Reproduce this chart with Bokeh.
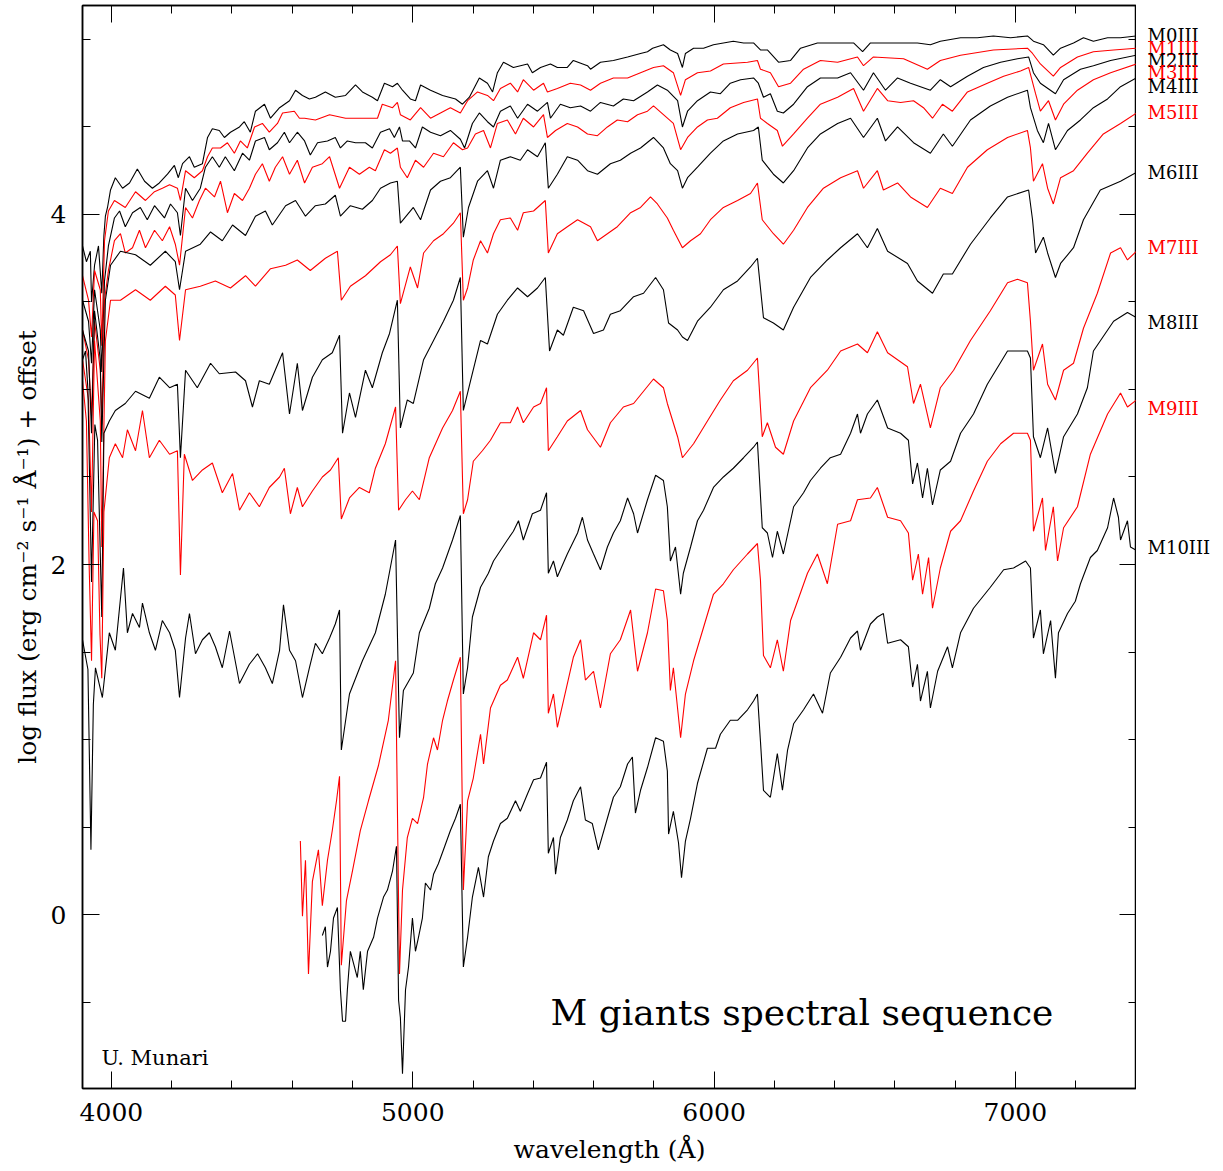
from bokeh.plotting import figure
from bokeh.layouts import row
from bokeh.models import (Range1d, LinearAxis, SingleIntervalTicker, Label,
                          CustomJSTickFormatter)
from bokeh.core.properties import value
from bokeh.embed import file_html
from bokeh.resources import INLINE

FONT = "DejaVu Serif"

# ---- spectra: (wavelength [A], log flux + offset) ----
m0 = [(3904,3.82),(3917,3.73),(3930,3.79),(3934,3.50),(3944,3.71),(3957,3.82),(3968,3.55),(3975,3.88),(3980,3.99),(3987,4.04),(3997,4.14),(4013,4.21),(4037,4.15),(4060,4.18),(4086,4.26),(4110,4.19),(4136,4.15),(4159,4.18),(4186,4.23),(4209,4.28),(4222,4.21),(4236,4.29),(4259,4.33),(4275,4.27),(4302,4.29),(4319,4.44),(4335,4.49),(4358,4.48),(4375,4.44),(4395,4.47),(4425,4.50),(4441,4.53),(4461,4.47),(4478,4.59),(4508,4.63),(4528,4.55),(4558,4.61),(4591,4.65),(4611,4.71),(4634,4.68),(4657,4.66),(4677,4.67),(4710,4.70),(4743,4.67),(4777,4.68),(4810,4.74),(4833,4.70),(4866,4.67),(4883,4.65),(4906,4.75),(4933,4.73),(4949,4.75),(4966,4.71),(4992,4.66),(5009,4.65),(5026,4.74),(5059,4.71),(5099,4.68),(5142,4.66),(5165,4.63),(5188,4.67),(5221,4.78),(5248,4.75),(5265,4.70),(5281,4.81),(5301,4.87),(5334,4.84),(5381,4.86),(5397,4.81),(5424,4.84),(5457,4.86),(5480,4.84),(5513,4.84),(5533,4.88),(5580,4.85),(5590,4.83),(5623,4.87),(5666,4.88),(5713,4.90),(5756,4.92),(5779,4.93),(5796,4.95),(5832,4.97),(5855,4.94),(5879,4.92),(5895,4.84),(5905,4.92),(5932,4.95),(5965,4.95),(5998,4.97),(6031,4.98),(6064,4.99),(6098,4.98),(6131,4.98),(6154,4.94),(6177,4.94),(6214,4.87),(6254,4.88),(6287,4.95),(6343,4.98),(6396,4.98),(6463,4.98),(6493,4.93),(6519,4.98),(6576,4.98),(6619,4.98),(6675,4.98),(6718,4.97),(6751,4.99),(6818,5.01),(6874,5.01),(6927,5.02),(6984,5.01),(7040,5.02),(7060,4.99),(7093,4.97),(7126,4.91),(7150,4.95),(7193,4.98),(7226,5.01),(7259,4.99),(7306,5.01),(7349,5.01),(7402,5.02)]

m1 = [(3904,3.65),(3924,3.51),(3934,3.30),(3944,3.68),(3963,3.57),(3968,3.25),(3977,3.85),(3990,4.02),(4010,4.08),(4046,4.04),(4080,4.13),(4113,4.08),(4143,4.13),(4169,4.15),(4193,4.17),(4219,4.15),(4229,4.08),(4246,4.25),(4275,4.21),(4302,4.25),(4319,4.33),(4335,4.38),(4362,4.38),(4385,4.41),(4408,4.35),(4428,4.42),(4451,4.38),(4475,4.50),(4501,4.52),(4524,4.47),(4551,4.52),(4568,4.58),(4607,4.59),(4624,4.55),(4641,4.55),(4677,4.54),(4724,4.57),(4777,4.55),(4810,4.55),(4856,4.55),(4883,4.55),(4899,4.63),(4933,4.61),(4949,4.64),(4959,4.57),(4992,4.54),(5026,4.61),(5059,4.55),(5092,4.58),(5125,4.61),(5158,4.58),(5182,4.65),(5215,4.70),(5248,4.68),(5268,4.65),(5291,4.72),(5324,4.75),(5348,4.70),(5367,4.77),(5401,4.71),(5434,4.75),(5447,4.70),(5480,4.72),(5523,4.75),(5557,4.74),(5590,4.71),(5623,4.75),(5666,4.78),(5713,4.78),(5756,4.81),(5799,4.84),(5832,4.85),(5865,4.81),(5889,4.68),(5905,4.77),(5945,4.81),(5988,4.82),(6031,4.86),(6111,4.87),(6144,4.88),(6154,4.83),(6187,4.81),(6214,4.73),(6254,4.75),(6297,4.83),(6353,4.88),(6410,4.87),(6476,4.90),(6496,4.85),(6529,4.90),(6629,4.89),(6708,4.83),(6751,4.88),(6818,4.91),(6927,4.94),(7040,4.95),(7057,4.92),(7083,4.86),(7126,4.79),(7150,4.84),(7206,4.90),(7259,4.93),(7326,4.94),(7402,4.95)]

m2 = [(3904,3.51),(3924,3.39),(3934,3.15),(3944,3.57),(3963,3.34),(3968,3.10),(3977,3.62),(3990,3.82),(4010,3.98),(4027,4.02),(4046,3.93),(4070,4.01),(4096,4.04),(4119,3.97),(4143,4.05),(4176,3.98),(4196,4.06),(4219,4.01),(4229,3.88),(4246,4.15),(4269,4.08),(4295,4.15),(4312,4.27),(4335,4.33),(4358,4.27),(4378,4.33),(4408,4.25),(4435,4.35),(4458,4.31),(4478,4.42),(4508,4.44),(4524,4.37),(4551,4.41),(4574,4.47),(4591,4.41),(4617,4.47),(4641,4.42),(4660,4.34),(4684,4.41),(4717,4.42),(4743,4.44),(4760,4.38),(4783,4.42),(4810,4.41),(4843,4.41),(4866,4.38),(4893,4.47),(4923,4.49),(4939,4.44),(4956,4.50),(4966,4.42),(4989,4.42),(5009,4.38),(5032,4.50),(5059,4.47),(5092,4.45),(5125,4.48),(5158,4.43),(5172,4.38),(5198,4.52),(5221,4.58),(5248,4.53),(5268,4.50),(5291,4.59),(5324,4.62),(5348,4.55),(5381,4.63),(5414,4.59),(5447,4.64),(5457,4.55),(5490,4.63),(5523,4.61),(5557,4.62),(5590,4.59),(5623,4.64),(5666,4.62),(5699,4.66),(5733,4.65),(5779,4.70),(5812,4.74),(5845,4.71),(5879,4.65),(5895,4.50),(5912,4.59),(5945,4.65),(5988,4.70),(6021,4.69),(6054,4.75),(6088,4.77),(6131,4.78),(6147,4.75),(6164,4.67),(6187,4.69),(6210,4.59),(6230,4.58),(6264,4.63),(6310,4.73),(6353,4.78),(6410,4.78),(6453,4.81),(6496,4.71),(6529,4.81),(6569,4.71),(6609,4.78),(6652,4.75),(6718,4.71),(6751,4.77),(6785,4.73),(6841,4.79),(6894,4.84),(6951,4.87),(7007,4.89),(7044,4.90),(7060,4.81),(7083,4.75),(7133,4.69),(7160,4.77),(7216,4.83),(7259,4.85),(7316,4.88),(7402,4.91)]

m3 = [(3904,3.34),(3924,3.17),(3934,2.85),(3944,3.39),(3963,3.11),(3968,2.80),(3977,3.51),(3990,3.68),(4010,3.85),(4030,3.89),(4046,3.78),(4070,3.81),(4093,3.91),(4113,3.81),(4143,3.91),(4169,3.85),(4193,3.93),(4212,3.83),(4226,3.71),(4246,4.04),(4269,3.98),(4292,4.08),(4312,4.15),(4342,4.10),(4362,4.19),(4385,4.01),(4408,4.12),(4435,4.08),(4458,4.15),(4478,4.23),(4501,4.29),(4524,4.19),(4544,4.27),(4568,4.33),(4591,4.23),(4617,4.31),(4641,4.18),(4667,4.27),(4700,4.29),(4724,4.33),(4757,4.15),(4790,4.27),(4823,4.23),(4856,4.27),(4876,4.25),(4906,4.37),(4926,4.35),(4949,4.38),(4959,4.27),(4982,4.21),(5009,4.31),(5036,4.27),(5069,4.35),(5102,4.33),(5135,4.41),(5165,4.37),(5182,4.38),(5208,4.46),(5235,4.48),(5258,4.38),(5281,4.52),(5314,4.54),(5341,4.46),(5367,4.55),(5401,4.50),(5434,4.57),(5447,4.44),(5474,4.48),(5513,4.52),(5547,4.50),(5580,4.46),(5613,4.45),(5646,4.50),(5679,4.54),(5713,4.53),(5746,4.57),(5779,4.59),(5799,4.62),(5832,4.57),(5865,4.52),(5889,4.37),(5912,4.44),(5945,4.50),(5978,4.54),(6011,4.55),(6054,4.61),(6098,4.64),(6144,4.66),(6154,4.55),(6177,4.52),(6210,4.48),(6227,4.39),(6264,4.46),(6310,4.55),(6353,4.63),(6410,4.67),(6463,4.72),(6496,4.59),(6542,4.72),(6576,4.65),(6619,4.64),(6662,4.65),(6695,4.61),(6725,4.55),(6758,4.63),(6791,4.59),(6841,4.70),(6907,4.75),(6961,4.79),(7017,4.82),(7044,4.84),(7067,4.69),(7083,4.59),(7110,4.65),(7133,4.54),(7160,4.63),(7206,4.71),(7259,4.77),(7316,4.81),(7402,4.86)]

m4 = [(3904,3.34),(3924,3.22),(3934,2.75),(3944,3.45),(3963,3.17),(3968,2.70),(3980,3.51),(3997,3.71),(4030,3.79),(4080,3.77),(4129,3.71),(4179,3.79),(4212,3.73),(4226,3.57),(4246,3.79),(4295,3.83),(4329,3.90),(4368,3.85),(4402,3.94),(4445,3.88),(4478,3.99),(4511,4.02),(4534,3.94),(4578,4.05),(4611,4.08),(4644,3.99),(4677,4.05),(4710,4.06),(4743,4.11),(4760,3.99),(4793,4.05),(4833,4.03),(4866,4.08),(4893,4.15),(4926,4.18),(4949,4.19),(4959,3.95),(5002,4.04),(5026,3.97),(5059,4.14),(5092,4.19),(5125,4.21),(5158,4.27),(5168,3.87),(5185,4.04),(5215,4.19),(5248,4.25),(5268,4.15),(5291,4.31),(5324,4.33),(5357,4.31),(5381,4.37),(5414,4.33),(5440,4.41),(5450,4.15),(5480,4.23),(5513,4.33),(5547,4.31),(5580,4.25),(5613,4.23),(5656,4.29),(5689,4.31),(5723,4.35),(5756,4.38),(5799,4.44),(5832,4.38),(5855,4.29),(5879,4.25),(5895,4.15),(5912,4.21),(5945,4.27),(5988,4.35),(6031,4.42),(6078,4.46),(6131,4.48),(6147,4.50),(6160,4.31),(6197,4.23),(6230,4.18),(6264,4.25),(6310,4.38),(6353,4.46),(6410,4.52),(6453,4.55),(6496,4.44),(6542,4.55),(6569,4.42),(6609,4.50),(6662,4.41),(6718,4.35),(6761,4.46),(6791,4.39),(6851,4.54),(6917,4.62),(6974,4.67),(7040,4.71),(7050,4.61),(7073,4.48),(7093,4.41),(7110,4.52),(7133,4.37),(7173,4.48),(7216,4.54),(7259,4.61),(7306,4.66),(7349,4.73),(7402,4.78)]

m5 = [(3904,3.17),(3924,2.94),(3934,2.30),(3944,3.28),(3963,2.82),(3968,2.10),(3980,3.28),(3997,3.51),(4030,3.51),(4080,3.57),(4129,3.51),(4179,3.59),(4212,3.54),(4226,3.28),(4246,3.57),(4295,3.59),(4345,3.62),(4395,3.58),(4445,3.65),(4478,3.59),(4528,3.69),(4578,3.71),(4617,3.74),(4660,3.68),(4710,3.75),(4750,3.79),(4763,3.51),(4793,3.59),(4843,3.65),(4893,3.73),(4926,3.77),(4949,3.82),(4959,3.49),(4992,3.70),(5016,3.58),(5036,3.78),(5069,3.85),(5102,3.89),(5135,3.95),(5158,4.01),(5168,3.51),(5182,3.58),(5201,3.74),(5225,3.85),(5248,3.78),(5268,3.89),(5291,3.97),(5324,3.98),(5348,3.91),(5367,4.01),(5401,4.02),(5440,4.08),(5450,3.78),(5480,3.89),(5513,3.93),(5547,3.97),(5590,3.93),(5613,3.85),(5646,3.89),(5679,3.93),(5723,4.01),(5756,4.04),(5789,4.10),(5812,4.06),(5845,3.98),(5865,3.91),(5895,3.81),(5922,3.85),(5955,3.89),(5988,3.97),(6031,4.04),(6078,4.08),(6121,4.12),(6144,4.18),(6160,3.97),(6197,3.89),(6230,3.83),(6264,3.91),(6310,4.04),(6363,4.15),(6420,4.21),(6476,4.25),(6496,4.15),(6542,4.25),(6562,4.14),(6609,4.18),(6652,4.10),(6708,4.04),(6751,4.15),(6791,4.12),(6841,4.27),(6907,4.37),(6974,4.44),(7040,4.48),(7050,4.38),(7060,4.19),(7090,4.29),(7107,4.15),(7126,4.06),(7150,4.21),(7193,4.25),(7239,4.35),(7292,4.46),(7349,4.52),(7402,4.58)]

m6 = [(3904,3.17),(3914,3.22),(3922,3.00),(3934,1.90),(3945,2.80),(3954,2.71),(3968,1.70),(3975,2.75),(3993,2.82),(4013,2.88),(4046,2.92),(4080,2.99),(4126,2.95),(4159,3.07),(4193,3.01),(4219,3.03),(4229,2.61),(4246,3.11),(4285,3.01),(4329,3.15),(4358,3.09),(4412,3.10),(4445,3.05),(4468,2.90),(4491,3.05),(4524,3.03),(4568,3.21),(4591,2.86),(4617,3.15),(4634,2.88),(4667,3.07),(4700,3.17),(4733,3.21),(4757,3.31),(4767,2.75),(4790,2.98),(4810,2.84),(4843,3.11),(4866,3.01),(4899,3.21),(4923,3.32),(4949,3.51),(4959,2.78),(4982,2.94),(5002,2.92),(5036,3.17),(5069,3.28),(5102,3.39),(5135,3.51),(5158,3.64),(5168,2.88),(5192,3.05),(5225,3.28),(5248,3.26),(5281,3.43),(5314,3.51),(5348,3.58),(5381,3.53),(5414,3.58),(5440,3.64),(5454,3.22),(5480,3.34),(5500,3.31),(5533,3.47),(5567,3.45),(5600,3.32),(5633,3.34),(5656,3.43),(5689,3.45),(5733,3.53),(5766,3.55),(5806,3.64),(5832,3.57),(5849,3.38),(5879,3.34),(5895,3.30),(5912,3.28),(5945,3.39),(5988,3.47),(6031,3.57),(6078,3.62),(6121,3.70),(6144,3.75),(6164,3.41),(6197,3.38),(6230,3.34),(6264,3.47),(6320,3.64),(6376,3.74),(6420,3.81),(6476,3.89),(6509,3.81),(6542,3.92),(6576,3.79),(6642,3.72),(6675,3.62),(6725,3.55),(6761,3.66),(6791,3.66),(6851,3.83),(6917,3.98),(6974,4.10),(7044,4.14),(7057,3.97),(7067,3.78),(7093,3.87),(7107,3.78),(7133,3.64),(7150,3.72),(7193,3.81),(7226,3.97),(7282,4.14),(7349,4.19),(7402,4.24)]

m7 = [(3904,3.05),(3917,2.82),(3926,2.00),(3934,1.45),(3942,2.30),(3954,2.25),(3962,1.60),(3968,1.35),(3975,2.30),(3993,2.61),(4013,2.69),(4037,2.61),(4053,2.77),(4080,2.65),(4103,2.88),(4126,2.61),(4159,2.71),(4193,2.63),(4219,2.65),(4229,1.94),(4242,2.63),(4269,2.48),(4302,2.54),(4335,2.58),(4368,2.41),(4402,2.52),(4425,2.31),(4458,2.41),(4491,2.33),(4524,2.44),(4558,2.50),(4574,2.55),(4594,2.29),(4617,2.44),(4634,2.33),(4667,2.42),(4700,2.50),(4727,2.54),(4753,2.61),(4763,2.26),(4790,2.38),(4823,2.44),(4856,2.41),(4876,2.55),(4909,2.69),(4943,2.90),(4953,2.31),(4976,2.37),(4999,2.42),(5022,2.37),(5055,2.61),(5099,2.78),(5132,2.88),(5158,2.99),(5168,2.29),(5182,2.37),(5201,2.59),(5231,2.65),(5258,2.71),(5291,2.81),(5324,2.81),(5348,2.90),(5367,2.81),(5401,2.90),(5424,2.92),(5444,3.01),(5450,2.65),(5480,2.73),(5513,2.82),(5557,2.88),(5580,2.77),(5623,2.67),(5656,2.81),(5699,2.90),(5733,2.92),(5766,2.99),(5799,3.06),(5832,3.01),(5845,2.92),(5879,2.73),(5895,2.61),(5932,2.69),(5978,2.82),(6021,2.94),(6064,3.05),(6111,3.11),(6144,3.18),(6160,2.73),(6177,2.81),(6204,2.67),(6230,2.63),(6264,2.82),(6320,3.01),(6376,3.11),(6420,3.22),(6476,3.26),(6509,3.21),(6542,3.33),(6576,3.21),(6642,3.13),(6662,2.92),(6685,3.03),(6718,2.78),(6751,3.01),(6795,3.11),(6851,3.28),(6917,3.45),(6974,3.61),(7007,3.63),(7040,3.61),(7050,3.39),(7060,3.11),(7090,3.26),(7107,3.03),(7133,2.94),(7160,3.11),(7193,3.15),(7226,3.35),(7272,3.55),(7316,3.78),(7349,3.81),(7372,3.74),(7402,3.79)]

m8 = [(3904,1.57),(3922,1.40),(3932,0.37),(3940,1.20),(3947,1.41),(3970,1.24),(3993,1.61),(4013,1.51),(4040,1.98),(4053,1.61),(4070,1.72),(4093,1.64),(4103,1.78),(4126,1.61),(4146,1.51),(4169,1.68),(4193,1.61),(4212,1.51),(4226,1.24),(4246,1.58),(4259,1.72),(4279,1.49),(4302,1.57),(4325,1.61),(4345,1.53),(4368,1.41),(4392,1.62),(4425,1.32),(4458,1.43),(4485,1.49),(4511,1.41),(4534,1.32),(4558,1.51),(4571,1.77),(4591,1.51),(4611,1.45),(4634,1.24),(4657,1.41),(4677,1.55),(4700,1.49),(4724,1.58),(4743,1.66),(4757,1.74),(4763,0.94),(4790,1.26),(4833,1.45),(4876,1.61),(4909,1.83),(4943,2.14),(4956,1.01),(4969,1.28),(5002,1.38),(5022,1.61),(5055,1.75),(5075,1.89),(5099,1.98),(5132,2.14),(5158,2.28),(5168,1.26),(5182,1.41),(5198,1.70),(5225,1.87),(5251,1.95),(5268,2.02),(5291,2.08),(5314,2.14),(5334,2.19),(5351,2.25),(5367,2.14),(5397,2.29),(5424,2.31),(5444,2.41),(5450,1.95),(5467,2.02),(5480,1.93),(5513,2.06),(5547,2.18),(5563,2.27),(5580,2.14),(5600,2.06),(5623,1.97),(5646,2.10),(5666,2.18),(5689,2.25),(5713,2.38),(5733,2.29),(5746,2.18),(5779,2.37),(5806,2.51),(5832,2.48),(5845,2.33),(5855,2.02),(5872,2.10),(5889,1.83),(5898,1.95),(5922,2.10),(5945,2.25),(5965,2.31),(5998,2.44),(6031,2.50),(6064,2.55),(6098,2.61),(6131,2.67),(6144,2.70),(6160,2.21),(6177,2.18),(6194,2.04),(6210,2.19),(6230,2.06),(6264,2.33),(6297,2.41),(6320,2.48),(6353,2.55),(6386,2.61),(6420,2.63),(6453,2.75),(6476,2.86),(6486,2.75),(6509,2.86),(6542,2.94),(6576,2.78),(6619,2.75),(6645,2.71),(6659,2.46),(6675,2.58),(6692,2.38),(6708,2.55),(6725,2.34),(6751,2.54),(6785,2.59),(6818,2.75),(6861,2.86),(6907,3.03),(6974,3.22),(7040,3.22),(7050,3.18),(7060,2.73),(7083,2.61),(7107,2.78),(7133,2.52),(7160,2.73),(7206,2.86),(7239,3.01),(7259,3.22),(7326,3.39),(7372,3.44),(7402,3.41)]

m9 = [(4627,0.42),(4634,-0.01),(4644,0.31),(4654,-0.34),(4667,0.19),(4687,0.37),(4700,0.05),(4717,0.31),(4733,0.48),(4747,0.65),(4757,0.79),(4763,-0.29),(4780,0.08),(4800,0.25),(4826,0.48),(4853,0.65),(4886,0.85),(4919,1.11),(4943,1.45),(4956,-0.34),(4966,0.14),(4982,0.44),(4999,0.55),(5016,0.52),(5036,0.67),(5049,0.86),(5069,1.01),(5082,0.94),(5099,1.11),(5115,1.22),(5135,1.34),(5158,1.47),(5168,0.14),(5182,0.65),(5201,0.78),(5225,1.03),(5235,0.86),(5258,1.18),(5291,1.31),(5314,1.34),(5348,1.47),(5367,1.35),(5401,1.61),(5424,1.57),(5444,1.71),(5450,1.15),(5467,1.26),(5480,1.07),(5500,1.22),(5533,1.47),(5557,1.57),(5573,1.34),(5600,1.39),(5623,1.18),(5656,1.49),(5689,1.57),(5723,1.74),(5746,1.39),(5779,1.61),(5806,1.86),(5832,1.85),(5845,1.68),(5855,1.28),(5865,1.41),(5889,1.01),(5905,1.26),(5932,1.45),(5965,1.64),(5998,1.83),(6031,1.89),(6064,1.97),(6111,2.06),(6144,2.12),(6154,1.91),(6164,1.48),(6187,1.41),(6210,1.57),(6230,1.39),(6254,1.68),(6277,1.79),(6310,1.95),(6343,2.06),(6376,1.89),(6410,2.23),(6453,2.25),(6476,2.37),(6519,2.38),(6542,2.44),(6576,2.27),(6619,2.25),(6645,2.18),(6659,1.91),(6678,2.06),(6692,1.83),(6712,2.04),(6725,1.75),(6751,1.98),(6785,2.19),(6818,2.25),(6861,2.42),(6907,2.59),(6951,2.69),(6994,2.75),(7040,2.75),(7050,2.71),(7060,2.19),(7090,2.38),(7100,2.08),(7126,2.33),(7140,2.02),(7160,2.21),(7206,2.33),(7249,2.63),(7306,2.86),(7349,2.98),(7372,2.90),(7402,2.94)]

m10 = [(4700,-0.12),(4710,-0.07),(4717,-0.30),(4727,-0.21),(4737,-0.02),(4750,0.04),(4760,-0.43),(4767,-0.61),(4777,-0.61),(4783,-0.43),(4793,-0.21),(4816,-0.36),(4826,-0.21),(4836,-0.43),(4850,-0.21),(4870,-0.13),(4883,-0.02),(4903,0.10),(4916,0.14),(4933,0.25),(4946,0.39),(4953,-0.49),(4959,-0.59),(4966,-0.91),(4976,-0.43),(4986,-0.30),(4999,-0.02),(5009,-0.21),(5019,-0.13),(5032,-0.02),(5042,0.18),(5059,0.14),(5069,0.23),(5085,0.29),(5102,0.37),(5125,0.48),(5142,0.55),(5158,0.63),(5168,-0.30),(5182,-0.13),(5198,0.10),(5218,0.27),(5235,0.10),(5251,0.33),(5268,0.42),(5291,0.52),(5314,0.55),(5341,0.65),(5357,0.59),(5381,0.69),(5401,0.77),(5424,0.78),(5444,0.87),(5450,0.35),(5467,0.44),(5474,0.23),(5490,0.44),(5513,0.54),(5533,0.65),(5557,0.73),(5573,0.54),(5596,0.52),(5616,0.37),(5646,0.55),(5666,0.67),(5689,0.73),(5713,0.86),(5729,0.90),(5739,0.58),(5756,0.71),(5779,0.84),(5806,1.01),(5832,0.99),(5845,0.82),(5849,0.46),(5865,0.59),(5882,0.41),(5892,0.21),(5905,0.42),(5922,0.55),(5945,0.75),(5978,0.95),(6005,0.95),(6021,1.03),(6054,1.11),(6078,1.11),(6111,1.17),(6131,1.22),(6144,1.26),(6154,0.99),(6164,0.71),(6187,0.67),(6210,0.92),(6227,0.71),(6244,0.94),(6264,1.09),(6297,1.17),(6330,1.26),(6360,1.15),(6386,1.38),(6420,1.47),(6453,1.58),(6476,1.62),(6486,1.51),(6519,1.66),(6542,1.70),(6562,1.72),(6576,1.55),(6619,1.57),(6645,1.53),(6659,1.30),(6675,1.43),(6685,1.22),(6708,1.39),(6718,1.18),(6742,1.39),(6775,1.53),(6791,1.41),(6818,1.61),(6861,1.75),(6917,1.87),(6961,1.97),(6994,1.98),(7034,2.02),(7050,1.98),(7060,1.58),(7083,1.74),(7093,1.49),(7117,1.68),(7133,1.35),(7143,1.61),(7173,1.72),(7199,1.79),(7216,1.89),(7249,2.04),(7272,2.08),(7306,2.21),(7326,2.38),(7342,2.27),(7349,2.14),(7372,2.25),(7382,2.10),(7402,2.08)]

spectra = [m0, m1, m2, m3, m4, m5, m6, m7, m8, m9, m10]
names = ["M0III", "M1III", "M2III", "M3III", "M4III", "M5III",
         "M6III", "M7III", "M8III", "M9III", "M10III"]
colors = ["black", "red", "black", "red", "black", "red",
          "black", "red", "black", "red", "black"]
label_y = [5.02, 4.95, 4.88, 4.81, 4.73, 4.58, 4.24, 3.81, 3.38, 2.89, 2.10]

x_ticks_major = 1000
y_ticks_major = 2

FRAME_H = 1083
TOP, BOTTOM = 5, 83
yr = Range1d(-0.994, 5.194)

p = figure(frame_width=1054, frame_height=FRAME_H,
           min_border_left=82, min_border_right=0,
           min_border_top=TOP, min_border_bottom=BOTTOM,
           x_range=Range1d(3904, 7402), y_range=yr,
           output_backend="svg", toolbar_location=None,
           background_fill_color="white", border_fill_color="white")

p.xgrid.visible = False
p.ygrid.visible = False
p.outline_line_color = "black"
p.outline_line_width = 1.5

for spec, col in zip(spectra, colors):
    wl = [a for a, b in spec]
    fl = [b for a, b in spec]
    p.line(wl, fl, line_color=col, line_width=1.1)

blank = CustomJSTickFormatter(code="return '';")


def style_axis(ax, show_labels):
    ax.axis_line_color = "black"
    ax.axis_line_width = 1.5
    ax.major_tick_in = 17
    ax.major_tick_out = 0
    ax.minor_tick_in = 8
    ax.minor_tick_out = 0
    ax.major_tick_line_color = "black"
    ax.minor_tick_line_color = "black"
    ax.major_tick_line_width = 1
    ax.minor_tick_line_width = 1
    if show_labels:
        ax.major_label_text_font = FONT
        ax.major_label_text_font_size = "25px"
        ax.major_label_text_color = "black"
        ax.axis_label_text_font = FONT
        ax.axis_label_text_font_style = "normal"
        ax.axis_label_text_font_size = "25px"
        ax.axis_label_text_color = "black"
    else:
        ax.formatter = blank
        ax.major_label_standoff = 0


p.xaxis.ticker = SingleIntervalTicker(interval=x_ticks_major, num_minor_ticks=5)
p.yaxis.ticker = SingleIntervalTicker(interval=y_ticks_major, num_minor_ticks=4)
for ax in p.xaxis:
    style_axis(ax, True)
    ax.major_label_standoff = 14
    ax.axis_label_standoff = 11
    ax.axis_label = "wavelength (Å)"
for ax in p.yaxis:
    style_axis(ax, True)
    ax.major_label_standoff = 16
    ax.axis_label_standoff = 6
    ax.axis_label = "log flux (erg cm⁻² s⁻¹ Å⁻¹) + offset"

top = LinearAxis(ticker=SingleIntervalTicker(interval=x_ticks_major, num_minor_ticks=5))
style_axis(top, False)
p.add_layout(top, "above")
right = LinearAxis(ticker=SingleIntervalTicker(interval=y_ticks_major, num_minor_ticks=4))
style_axis(right, False)
p.add_layout(right, "right")

p.add_layout(Label(x=5457, y=-0.56, text="M giants spectral sequence",
                   text_font=FONT, text_font_size="36px", text_color="black",
                   text_baseline="alphabetic"))
p.add_layout(Label(x=3967, y=-0.82, text="U. Munari",
                   text_font=FONT, text_font_size="21px", text_color="black",
                   text_baseline="alphabetic"))

# ---- side panel with the spectral-type labels (shares the y scale) ----
side = figure(frame_width=1223 - 82 - 1054, frame_height=FRAME_H,
              min_border_left=0, min_border_right=0,
              min_border_top=TOP, min_border_bottom=BOTTOM,
              x_range=Range1d(0, 87), y_range=yr,
              x_axis_location=None, y_axis_location=None,
              output_backend="svg", toolbar_location=None,
              background_fill_color="white", border_fill_color="white")
side.outline_line_color = None
side.xgrid.visible = False
side.ygrid.visible = False
side.text(x=[11] * len(names), y=label_y, text=names, text_color=colors,
          text_font=value(FONT), text_font_size="18px",
          text_baseline="middle", text_align="left")

layout = row(p, side, spacing=0)
open("out.html", "w").write(file_html(layout, INLINE))
